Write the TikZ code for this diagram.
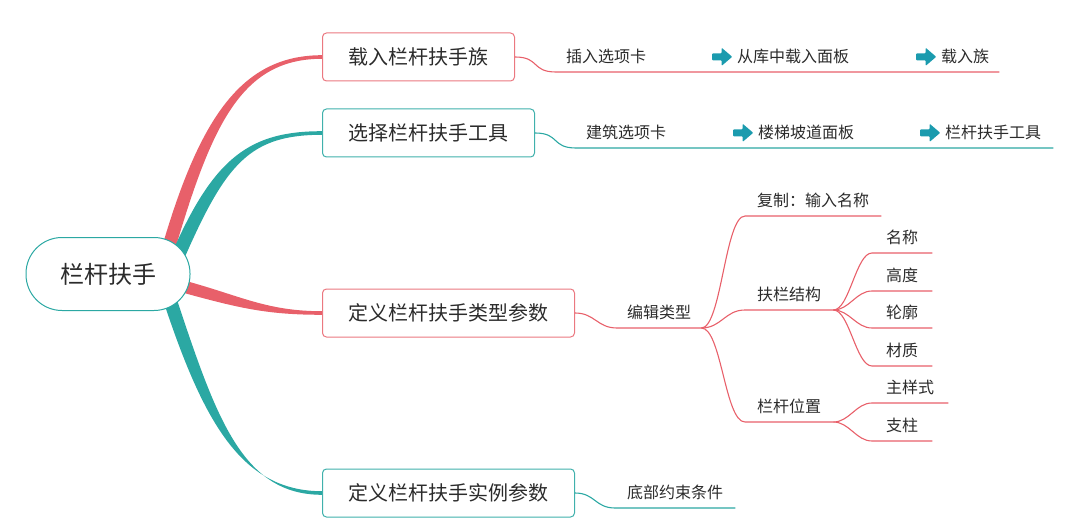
\documentclass[tikz,border=0pt]{standalone}
\usepackage{fontspec}
\setmainfont{Noto Sans CJK SC}
\usetikzlibrary{calc,backgrounds}
\definecolor{mmred}{HTML}{E8606A}
\definecolor{mmteal}{HTML}{2BA8A3}
\definecolor{mmtext}{HTML}{2B2B2B}
\definecolor{mmarrow}{HTML}{1B9BAE}
\newcommand\goarrow{\tikz[x=1pt, y=1pt, baseline=0pt]
  \fill[mmarrow, rounded corners=0.8pt] (0,2.5) -- (9.5,2.5) -- (9.5,-3) -- (20,6) -- (9.5,15) -- (9.5,9.5) -- (0,9.5) -- cycle;\hspace{5pt}}

\begin{document}
\begin{tikzpicture}[x=1pt, y=-1pt,
    topic/.style={draw, line width=1pt, rounded corners=4pt, fill=white, text=mmtext,
      minimum height=48pt, inner xsep=26pt, anchor=west, font=\fontsize{20}{20}\selectfont},
    sub/.style={text=mmtext, inner xsep=10pt, inner ysep=9pt, text depth=0pt,
      anchor=south west, font=\fontsize{16}{16}\selectfont},
    twig/.style={line width=1.1pt}]
    \useasboundingbox (0,0) rectangle (1066,524);

    % Root
    \node[draw=mmteal, line width=1pt, fill=white, rounded corners=36pt, minimum width=164pt,
      minimum height=73pt, text=mmtext, font=\fontsize{24}{24}\selectfont] (root) at (108,274) {栏杆扶手};

    % Topics
    \node[topic, draw=mmred!85] (load) at (322,57) {载入栏杆扶手族};
    \node[topic, draw=mmteal!90] (pick) at (322,133) {选择栏杆扶手工具};
    \node[topic, draw=mmred!85] (type) at (322,313) {定义栏杆扶手类型参数};
    \node[topic, draw=mmteal!90] (inst) at (322,493) {定义栏杆扶手实例参数};

    % Main branches
    \begin{pgfonlayer}{background}
    \fill[mmred] ($(root.center)+(54,-27)$) .. controls +(38,-130) and +(-80,0) .. ($(load.west)+(0,-1.8)$)
      -- ($(load.west)+(0,1.8)$) .. controls +(-80,0) and +(38,-130) .. ($(root.center)+(66,-21)$) -- cycle;
    \fill[mmteal] ($(root.center)+(64,-21)$) .. controls +(42,-96) and +(-72,0) .. ($(pick.west)+(0,-1.8)$)
      -- ($(pick.west)+(0,1.8)$) .. controls +(-72,0) and +(42,-96) .. ($(root.center)+(76,-15)$) -- cycle;
    \fill[mmred] ($(root.center)+(78,7)$) .. controls +(55,15) and +(-55,0) .. ($(type.west)+(0,-1.8)$)
      -- ($(type.west)+(0,1.8)$) .. controls +(-55,0) and +(55,15) .. ($(root.center)+(76,19)$) -- cycle;
    \fill[mmteal] ($(root.center)+(56,29)$) .. controls +(40,120) and +(-80,0) .. ($(inst.west)+(0,-1.8)$)
      -- ($(inst.west)+(0,1.8)$) .. controls +(-80,0) and +(40,120) .. ($(root.center)+(68,23)$) -- cycle;
    \end{pgfonlayer}

    % Load family
    \node[sub] (insert) at (556,72) {插入选项卡};
    \node[sub] (panel1) at (702,72) {\goarrow 从库中载入面板};
    \node[sub] (fam) at (906,72) {\goarrow 载入族};
    \draw[twig, mmred] (load.east) .. controls +(25,0) and +(-25,0) .. (insert.south west) -- (fam.south east);

    % Pick tool
    \node[sub] (arch) at (576,148) {建筑选项卡};
    \node[sub] (panel2) at (723,148) {\goarrow 楼梯坡道面板};
    \node[sub, inner xsep=12pt] (tool) at (908,148) {\goarrow 栏杆扶手工具};
    \draw[twig, mmteal] (pick.east) .. controls +(25,0) and +(-25,0) .. (arch.south west) -- (tool.south east);

    % Type parameters
    \node[sub] (edit) at (617,328) {编辑类型};
    \draw[twig, mmred] (type.east) .. controls +(20,0) and +(-20,0) .. (edit.south west) -- (edit.south east);
    \node[sub, inner xsep=12pt] (copy) at (745,216) {复制：输入名称};
    \node[sub, inner xsep=12pt] (rail) at (745,310) {扶栏结构};
    \node[sub, inner xsep=12pt] (post) at (745,422) {栏杆位置};
    \draw[twig, mmred] (edit.south east) .. controls +(20,0) and +(-20,0) .. (copy.south west) -- (copy.south east);
    \draw[twig, mmred] (edit.south east) .. controls +(20,0) and +(-20,0) .. (rail.south west) -- (rail.south east);
    \draw[twig, mmred] (edit.south east) .. controls +(20,0) and +(-20,0) .. (post.south west) -- (post.south east);

    % Rail structure
    \node[sub, inner xsep=14pt] (name) at (872,253) {名称};
    \node[sub, inner xsep=14pt] (height) at (872,291) {高度};
    \node[sub, inner xsep=14pt] (prof) at (872,328) {轮廓};
    \node[sub, inner xsep=14pt] (mat) at (872,366) {材质};
    \draw[twig, mmred] (rail.south east) .. controls +(16,0) and +(-16,0) .. (name.south west) -- (name.south east);
    \draw[twig, mmred] (rail.south east) .. controls +(16,0) and +(-16,0) .. (height.south west) -- (height.south east);
    \draw[twig, mmred] (rail.south east) .. controls +(16,0) and +(-16,0) .. (prof.south west) -- (prof.south east);
    \draw[twig, mmred] (rail.south east) .. controls +(16,0) and +(-16,0) .. (mat.south west) -- (mat.south east);

    % Post position
    \node[sub, inner xsep=14pt] (main) at (872,403) {主样式};
    \node[sub, inner xsep=14pt] (strut) at (872,441) {支柱};
    \draw[twig, mmred] (post.south east) .. controls +(16,0) and +(-16,0) .. (main.south west) -- (main.south east);
    \draw[twig, mmred] (post.south east) .. controls +(16,0) and +(-16,0) .. (strut.south west) -- (strut.south east);

    % Instance parameters
    \node[sub, inner xsep=12pt] (base) at (615,508) {底部约束条件};
    \draw[twig, mmteal] (inst.east) .. controls +(20,0) and +(-20,0) .. (base.south west) -- (base.south east);
\end{tikzpicture}
\end{document}
